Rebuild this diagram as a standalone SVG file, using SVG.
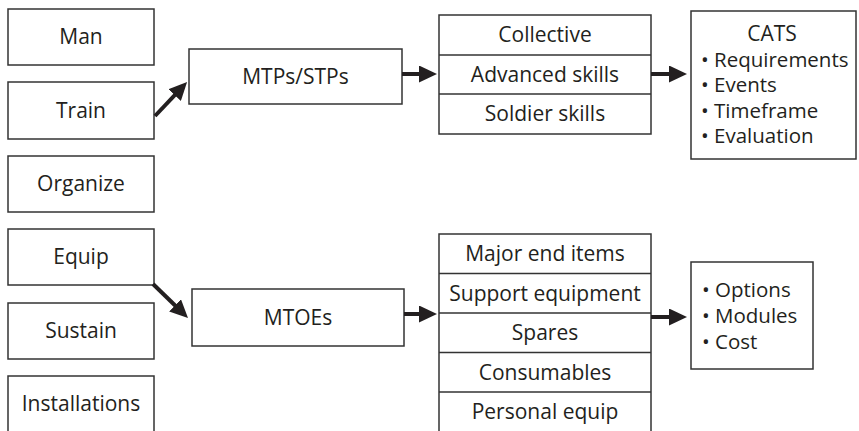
<svg xmlns="http://www.w3.org/2000/svg" width="859" height="431" viewBox="0 0 859 431">
<style>
.b{fill:#fff;stroke:#333;stroke-width:1.5}
.t{font-family:"Open Sans","Noto Sans",sans-serif;font-size:21px;fill:#231f20;text-anchor:middle}
.l{font-family:"Open Sans","Noto Sans",sans-serif;font-size:20.5px;fill:#231f20}
.c{stroke:#231f20;stroke-width:4;fill:none}
.r{stroke:#333;stroke-width:1.5}
</style>
<defs>
<marker id="ah" viewBox="0 0 18 17" refX="8" refY="8.5" markerWidth="18" markerHeight="17" markerUnits="userSpaceOnUse" orient="auto">
<path d="M0,0 L18,8.5 L0,17 Z" fill="#231f20"/>
</marker>
</defs>
<rect width="859" height="431" fill="#fff"/>
<g id="man"><rect class="b" x="8" y="9" width="146" height="56"/><text class="t" x="81" y="44">Man</text></g>
<g id="train"><rect class="b" x="8" y="82" width="146" height="57"/><text class="t" x="81" y="118">Train</text></g>
<g id="organize"><rect class="b" x="8" y="156" width="146" height="56"/><text class="t" x="81" y="191">Organize</text></g>
<g id="equip"><rect class="b" x="8" y="229" width="146" height="56"/><text class="t" x="81" y="264">Equip</text></g>
<g id="sustain"><rect class="b" x="8" y="303" width="146" height="56"/><text class="t" x="81" y="338">Sustain</text></g>
<g id="installations"><rect class="b" x="8" y="376" width="146" height="60"/><text class="t" x="81" y="411">Installations</text></g>
<g id="mtps"><rect class="b" x="189" y="49" width="213" height="55"/><text class="t" x="295.5" y="84">MTPs/STPs</text></g>
<g id="mtoes"><rect class="b" x="192" y="289" width="212" height="57"/><text class="t" x="298" y="325">MTOEs</text></g>
<g id="training-levels">
<rect class="b" x="439" y="15" width="212" height="119"/>
<line class="r" x1="439" y1="55" x2="651" y2="55"/>
<line class="r" x1="439" y1="94" x2="651" y2="94"/>
<text class="t" x="545" y="42">Collective</text>
<text class="t" x="545" y="82">Advanced skills</text>
<text class="t" x="545" y="121">Soldier skills</text>
</g>
<g id="equipment-types">
<rect class="b" x="439" y="234" width="212" height="202"/>
<line class="r" x1="439" y1="273.5" x2="651" y2="273.5"/>
<line class="r" x1="439" y1="313" x2="651" y2="313"/>
<line class="r" x1="439" y1="352.5" x2="651" y2="352.5"/>
<line class="r" x1="439" y1="392" x2="651" y2="392"/>
<text class="t" x="545" y="261">Major end items</text>
<text class="t" x="545" y="301">Support equipment</text>
<text class="t" x="545" y="340">Spares</text>
<text class="t" x="545" y="380">Consumables</text>
<text class="t" x="545" y="419">Personal equip</text>
</g>
<g id="cats">
<rect class="b" x="691" y="11" width="165" height="148"/>
<text class="t" x="772" y="41">CATS</text>
<text class="l" x="701" y="67">• Requirements</text>
<text class="l" x="701" y="92">• Events</text>
<text class="l" x="701" y="118">• Timeframe</text>
<text class="l" x="701" y="143">• Evaluation</text>
</g>
<g id="options">
<rect class="b" x="691" y="262" width="122" height="107"/>
<text class="l" x="702" y="297">• Options</text>
<text class="l" x="702" y="323">• Modules</text>
<text class="l" x="702" y="349">• Cost</text>
</g>
<g id="connectors">
<line class="c" x1="155" y1="116" x2="180.2" y2="89.3" marker-end="url(#ah)"/>
<line class="c" x1="153" y1="284" x2="180.8" y2="311" marker-end="url(#ah)"/>
<line class="c" x1="402" y1="74" x2="427" y2="74" marker-end="url(#ah)"/>
<line class="c" x1="651" y1="74" x2="677" y2="74" marker-end="url(#ah)"/>
<line class="c" x1="404" y1="314" x2="427" y2="314" marker-end="url(#ah)"/>
<line class="c" x1="651" y1="317" x2="677" y2="317" marker-end="url(#ah)"/>
</g>
</svg>
